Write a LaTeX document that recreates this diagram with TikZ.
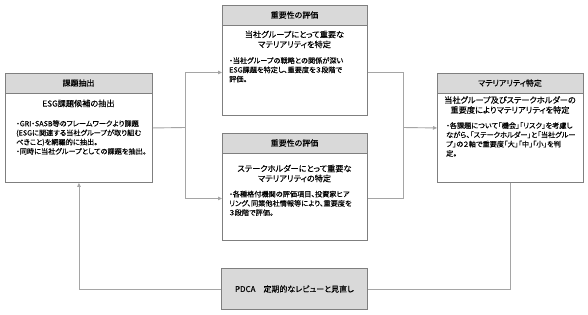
\documentclass[tikz,border=0pt]{standalone}
\usepackage{fontspec}
\setmainfont{Noto Sans CJK JP}[RawFeature=+palt,FakeBold=0.2]
\usetikzlibrary{arrows.meta}
\definecolor{bd}{HTML}{7F7F7F}
\definecolor{hd}{HTML}{D9D9D9}
\definecolor{cn}{HTML}{A5A5A5}
\tikzset{
 box/.style={draw=bd, line width=0.9bp, fill=white, inner sep=0pt, anchor=north west},
 hdr/.style={draw=bd, line width=0.9bp, fill=hd, inner sep=0pt, anchor=north west},
 htxt/.style={font=\fontsize{8}{10}\selectfont, inner sep=0pt},
 ttxt/.style={font=\fontsize{8.2}{10}\selectfont, inner sep=0pt, align=center, anchor=north},
 btxt/.style={font=\fontsize{7.2}{9.3}\selectfont, inner sep=0pt, align=left, anchor=north west},
 conn/.style={draw=cn, line width=0.9bp},
 arr/.style={conn, -{Triangle[length=4bp,width=3.5bp]}},
}
\begin{document}
\begin{tikzpicture}[x=1bp,y=-1bp]
\useasboundingbox (0,0) rectangle (588,314);
\fill[white] (0,0) rectangle (588,314);

% left box
\node[box, minimum width=147bp, minimum height=109bp] (L) at (5,73) {};
\node[hdr, minimum width=147bp, minimum height=20bp] (Lh) at (5,73) {};
\node[htxt] (Lht) at (78.5,83) {課題抽出};
\node[ttxt] (Lt) at (78.5,99.5) {ESG課題候補の抽出};
\node[btxt] (Lb) at (16,120) {・GRI・SASB等のフレームワークより課題\\(ESGに関連する当社グループが取り組む\\べきこと)を網羅的に抽出。\\・同時に当社グループとしての課題を抽出。};

% top middle box
\node[box, minimum width=145bp, minimum height=110bp] (T) at (222,5) {};
\node[hdr, minimum width=145bp, minimum height=20bp] (Th) at (222,5) {};
\node[htxt] (Tht) at (294.5,15) {重要性の評価};
\node[ttxt] (Tt) at (294.5,30.5) {当社グループにとって重要な\\マテリアリティを特定};
\node[btxt] (Tb) at (229,57) {・当社グループの戦略との関係が深い\\ESG課題を特定し、重要度を３段階で\\評価。};

% bottom middle box
\node[box, minimum width=145bp, minimum height=107bp] (B) at (222,133) {};
\node[hdr, minimum width=145bp, minimum height=20bp] (Bh) at (222,133) {};
\node[htxt] (Bht) at (294.5,143) {重要性の評価};
\node[ttxt] (Bt) at (294.5,164.5) {ステークホルダーにとって重要な\\マテリアリティの特定};
\node[btxt] (Bb) at (229,190.5) {・各種格付機関の評価項目、投資家ヒア\\リング、同業他社情報等により、重要度を\\３段階で評価。};

% right box
\node[box, minimum width=146bp, minimum height=109bp] (R) at (437,73) {};
\node[hdr, minimum width=146bp, minimum height=20bp] (Rh) at (437,73) {};
\node[htxt] (Rht) at (510,83) {マテリアリティ特定};
\node[ttxt] (Rt) at (510,96) {当社グループ及びステークホルダーの\\重要度によりマテリアリティを特定};
\node[btxt] (Rb) at (446,122) {・各課題について「機会」「リスク」を考慮し\\ながら、「ステークホルダー」と「当社グルー\\プ」の２軸で重要度「大」「中」「小」を判\\定。};

% PDCA box
\node[hdr, minimum width=146bp, minimum height=41bp] (P) at (221,268) {};
\node[htxt] (Pt) at (P.center) {PDCA　定期的なレビューと見直し};

% connectors
\coordinate (J1) at (185,127.5);
\coordinate (J2) at (403,127.5);
\draw[conn] (L.east) -- (J1);
\draw[arr] (J1) |- ([yshift=-12bp]T.west);
\draw[arr] (J1) |- ([yshift=-11.5bp]B.west);
\draw[conn] ([yshift=-12bp]T.east) -| (J2);
\draw[conn] ([yshift=-11.5bp]B.east) -| (J2);
\draw[arr] (J2) -- (R.west);
\draw[conn] (R.south) |- (P.east);
\draw[arr] (P.west) -| (L.south);
\end{tikzpicture}
\end{document}
